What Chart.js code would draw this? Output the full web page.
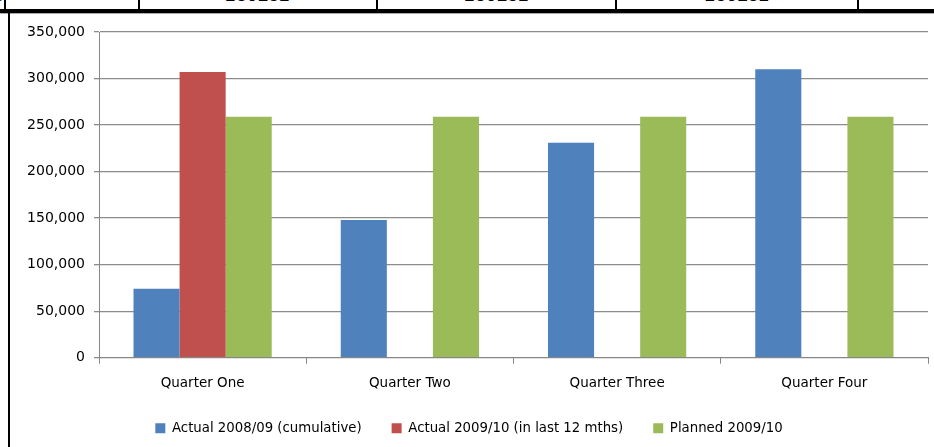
<!DOCTYPE html>
<html lang="en">
  <head>
    <meta charset="UTF-8" />
    <title>Quarterly totals</title>
    <script src="https://cdn.jsdelivr.net/npm/chart.js"></script>
    <style>
      body {
        margin: 0;
        width: 934px;
        height: 447px;
        overflow: hidden;
        background: #fff;
        position: relative;
      }
      .row {
        position: absolute;
        left: 0;
        top: 0;
        width: 934px;
        height: 9px;
        overflow: hidden;
      }
      .cell {
        position: absolute;
        top: -13px;
        height: 22px;
        border-right: 2px solid #000;
        font: 18px "Liberation Mono", monospace;
        text-align: center;
        line-height: 18px;
      }
      .rule {
        position: absolute;
        left: 0;
        top: 9px;
        width: 934px;
        height: 4px;
        background: #000;
        border-bottom: 1px solid #aaa;
      }
      .side {
        position: absolute;
        left: 8px;
        top: 12px;
        width: 2px;
        height: 435px;
        background: #000;
      }
      .chart-box {
        position: absolute;
        left: 10px;
        top: 14px;
        width: 924px;
        height: 433px;
      }
    </style>
  </head>
  <body>
    <div class="row">
      <div class="cell" style="left: -40px; width: 44px; text-align: right">3</div>
      <div class="cell" style="left: 4px; width: 134px"></div>
      <div class="cell" style="left: 139px; width: 237px">280182</div>
      <div class="cell" style="left: 378px; width: 237px">280182</div>
      <div class="cell" style="left: 617px; width: 240px">280182</div>
    </div>
    <div class="rule"></div>
    <div class="side"></div>
    <div class="chart-box">
      <canvas id="barChart"></canvas>
    </div>

    <script>
      const quarters = ["Quarter One", "Quarter Two", "Quarter Three", "Quarter Four"];
      const seriesNames = [
        "Actual 2008/09 (cumulative)",
        "Actual 2009/10 (in last 12 mths)",
        "Planned 2009/10",
      ];
      const actual0809 = [74000, 148000, 231000, 310000];
      const actual0910 = [307000, null, null, null];
      const planned0910 = [259000, 259000, 259000, 259000];
      const yTicks = [0, 50000, 100000, 150000, 200000, 250000, 300000, 350000];

      const colors = ["#4f81bd", "#c0504d", "#9bbb59"];
      const font = { family: "'DejaVu Sans', sans-serif", size: 14 };

      const ctx = document.getElementById("barChart").getContext("2d");
      new Chart(ctx, {
        type: "bar",
        data: {
          labels: quarters,
          datasets: [actual0809, actual0910, planned0910].map((data, i) => ({
            label: seriesNames[i],
            data: data,
            backgroundColor: colors[i],
            borderWidth: 0,
          })),
        },
        options: {
          responsive: true,
          maintainAspectRatio: false,
          animation: false,
          categoryPercentage: 0.667,
          barPercentage: 1,
          layout: { padding: { top: 18, right: 6, bottom: 2, left: 0 } },
          plugins: {
            legend: {
              position: "bottom",
              labels: {
                color: "#000",
                font: { family: font.family, size: 13.3 },
                boxWidth: 10,
                boxHeight: 10,
                padding: 30,
              },
            },
            tooltip: { enabled: false },
          },
          scales: {
            x: {
              grid: {
                offset: true,
                drawOnChartArea: false,
                color: "#868686",
                tickLength: 6,
              },
              border: { color: "#868686", width: 1 },
              ticks: { color: "#000", font: { family: font.family, size: 13.5 }, padding: 12 },
              afterFit: (scale) => {
                scale.height = 34;
              },
            },
            y: {
              min: 0,
              max: 350000,
              afterBuildTicks: (scale) => {
                scale.ticks = yTicks.map((v) => ({ value: v }));
              },
              grid: { color: "#8c8c8c", tickLength: 5, lineWidth: 1.3 },
              border: { color: "#868686", width: 1 },
              ticks: {
                color: "#000",
                font: font,
                padding: 9,
                callback: (v) => v.toLocaleString("en-US"),
              },
              afterFit: (scale) => {
                scale.width = 89;
              },
            },
          },
        },
      });
    </script>
  </body>
</html>
